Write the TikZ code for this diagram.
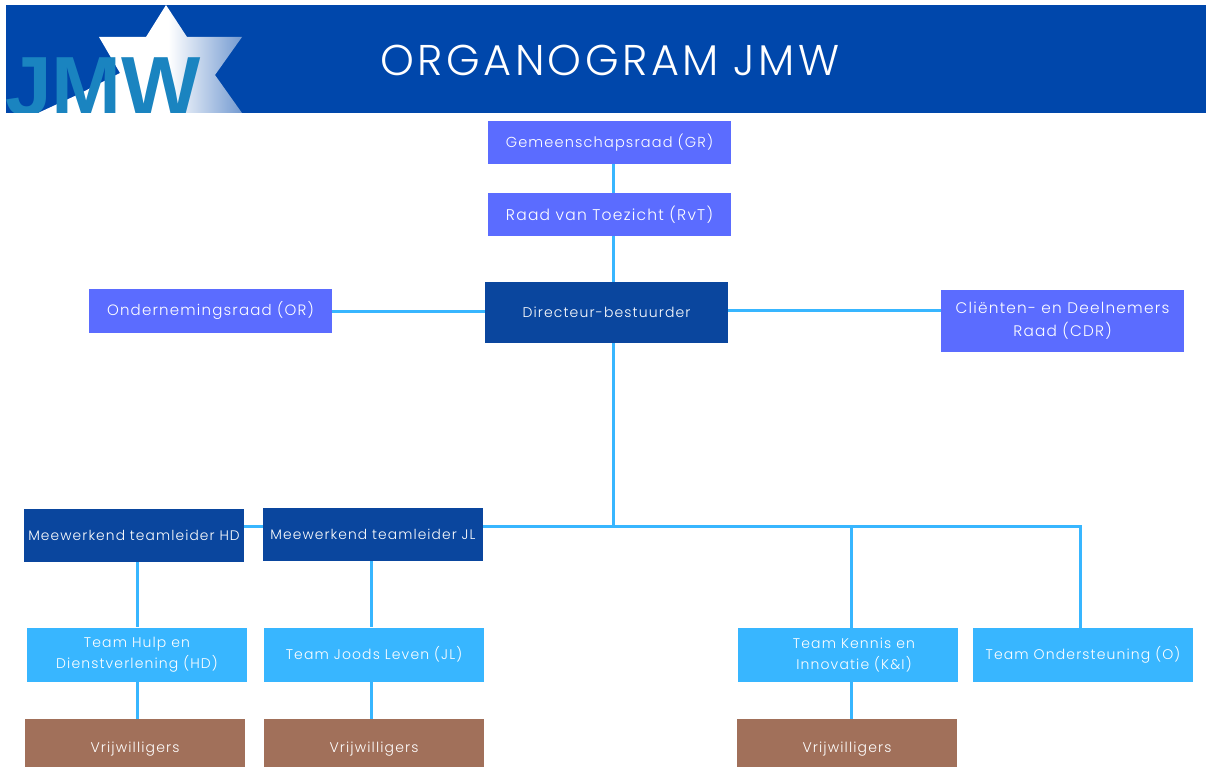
\documentclass[tikz,border=0pt]{standalone}
\usepackage{fontspec}
\setmainfont[LetterSpace=8,UprightFont=* Light]{Poppins}
\newfontfamily\logofont{Liberation Sans}
\usetikzlibrary{calc,positioning}
\definecolor{bannerblue}{HTML}{0047AB}
\definecolor{raadblue}{HTML}{5B6CFF}
\definecolor{leadblue}{HTML}{0A469E}
\definecolor{teamblue}{HTML}{38B6FF}
\definecolor{vrijbrown}{HTML}{A1705A}
\definecolor{logoblue}{HTML}{1A84C0}
\pgfdeclarehorizontalshading{starfade}{100bp}{color(0bp)=(white); color(57bp)=(white); color(75bp)=(bannerblue!55!white); color(100bp)=(bannerblue!55!white)}
\tikzset{
  orgbox/.style = {rectangle, inner sep=0pt, align=center, text=white,
    font=\fontsize{14.5}{22}\selectfont},
  wide/.style   = {orgbox, minimum width=243pt},
  small/.style  = {orgbox, minimum width=220pt, font=\fontsize{14}{21}\selectfont},
  raad/.style   = {wide, fill=raadblue},
  lead/.style   = {small, fill=leadblue, minimum height=53pt, font=\fontsize{13.8}{20}\selectfont},
  team/.style   = {small, fill=teamblue, minimum height=54pt},
  vrij/.style   = {small, fill=vrijbrown, minimum height=60pt},
  link/.style   = {draw=teamblue, line width=3pt}
}
\begin{document}
\begin{tikzpicture}[x=1pt,y=-1pt]
    \clip (0,0) rectangle (1206,767);
    % banner
    \fill[bannerblue] (6,5) rectangle (1206,113);
    \shade[shading=starfade] (166,5) -- (146,37) -- (99,37) -- (120,73) -- (77,95)
      -- (38,113) -- (242,113) -- (215,75) -- (242,37) -- (187,37) -- cycle;
    \begin{scope}
      \clip (6,5) rectangle (1206,113);
      \node[anchor=base west, inner sep=0pt, text=logoblue, font=\logofont\bfseries\fontsize{84}{84}\selectfont]
        (logo) at (5,116) {JMW};
    \end{scope}
    \node[anchor=center, inner sep=0pt, text=white, font=\fontsize{43}{43}\selectfont] (title) at (610,60) {ORGANOGRAM JMW};
    % trunk
    \coordinate (trunk) at (613,526);
    \coordinate (kennis) at (851,526);
    \coordinate (onder) at (1080,526);
    % boxes
    \node[raad, minimum height=43pt] (gr) at (609.5,142.5) {Gemeenschapsraad (GR)};
    \node[raad, minimum height=43pt, font=\fontsize{15.5}{22}\selectfont] (rvt) at (609.5,214.5) {Raad van Toezicht (RvT)};
    \node[wide, fill=leadblue, minimum height=61pt, font=\fontsize{14}{20}\selectfont] (dir) at (606.5,312.5) {Directeur-bestuurder};
    \node[raad, minimum height=44pt, font=\fontsize{15}{22}\selectfont] (or) at (210.5,311) {Ondernemingsraad (OR)};
    \node[raad, minimum height=62pt, font=\fontsize{15.3}{23}\selectfont] (cdr) at (1062.5,321) {Cliënten- en Deelnemers\\Raad (CDR)};
    \node[lead] (leadhd) at (134,535.5) {Meewerkend teamleider HD};
    \node[lead] (leadjl) at (373,534.5) {Meewerkend teamleider JL};
    \node[team] (teamhd) at (137,654.5) {Team Hulp en\\Dienstverlening (HD)};
    \node[team] (teamjl) at (374,654.5) {Team Joods Leven (JL)};
    \node[team] (teamki) at (848,655) {\hspace*{12pt}Team Kennis en\\\hspace*{12pt}Innovatie (K\&I)};
    \node[team] (teamo) at (1083,655) {Team Ondersteuning (O)};
    \node[vrij] (vrijhd) at (135,749) {Vrijwilligers};
    \node[vrij] (vrijjl) at (374,749) {Vrijwilligers};
    \node[vrij] (vrijki) at (847,749) {Vrijwilligers};
    % lines
    \draw[link] (gr.south -| trunk) -- (rvt.north -| trunk);
    \draw[link] (rvt.south -| trunk) -- (dir.north -| trunk);
    \draw[link] (dir.south -| trunk) -- (trunk);
    \draw[link] (or.east) -- (dir.west |- or.east);
    \draw[link] (dir.east |- 0,310) -- (cdr.west |- 0,310);
    \draw[link] (leadjl.east |- trunk) -- (onder) -- (teamo.north -| onder);
    \draw[link] (kennis) -- (teamki.north -| kennis);
    \draw[link] (leadhd.east |- trunk) -- (leadjl.west |- trunk);
    \coordinate (hdline) at (137,600);
    \coordinate (jlline) at (371,600);
    \draw[link] (leadhd.south -| hdline) -- (teamhd.north -| hdline);
    \draw[link] (teamhd.south -| hdline) -- (vrijhd.north -| hdline);
    \draw[link] (leadjl.south -| jlline) -- (teamjl.north -| jlline);
    \draw[link] (teamjl.south -| jlline) -- (vrijjl.north -| jlline);
    \draw[link] (teamki.south -| kennis) -- (vrijki.north -| kennis);
\end{tikzpicture}
\end{document}
